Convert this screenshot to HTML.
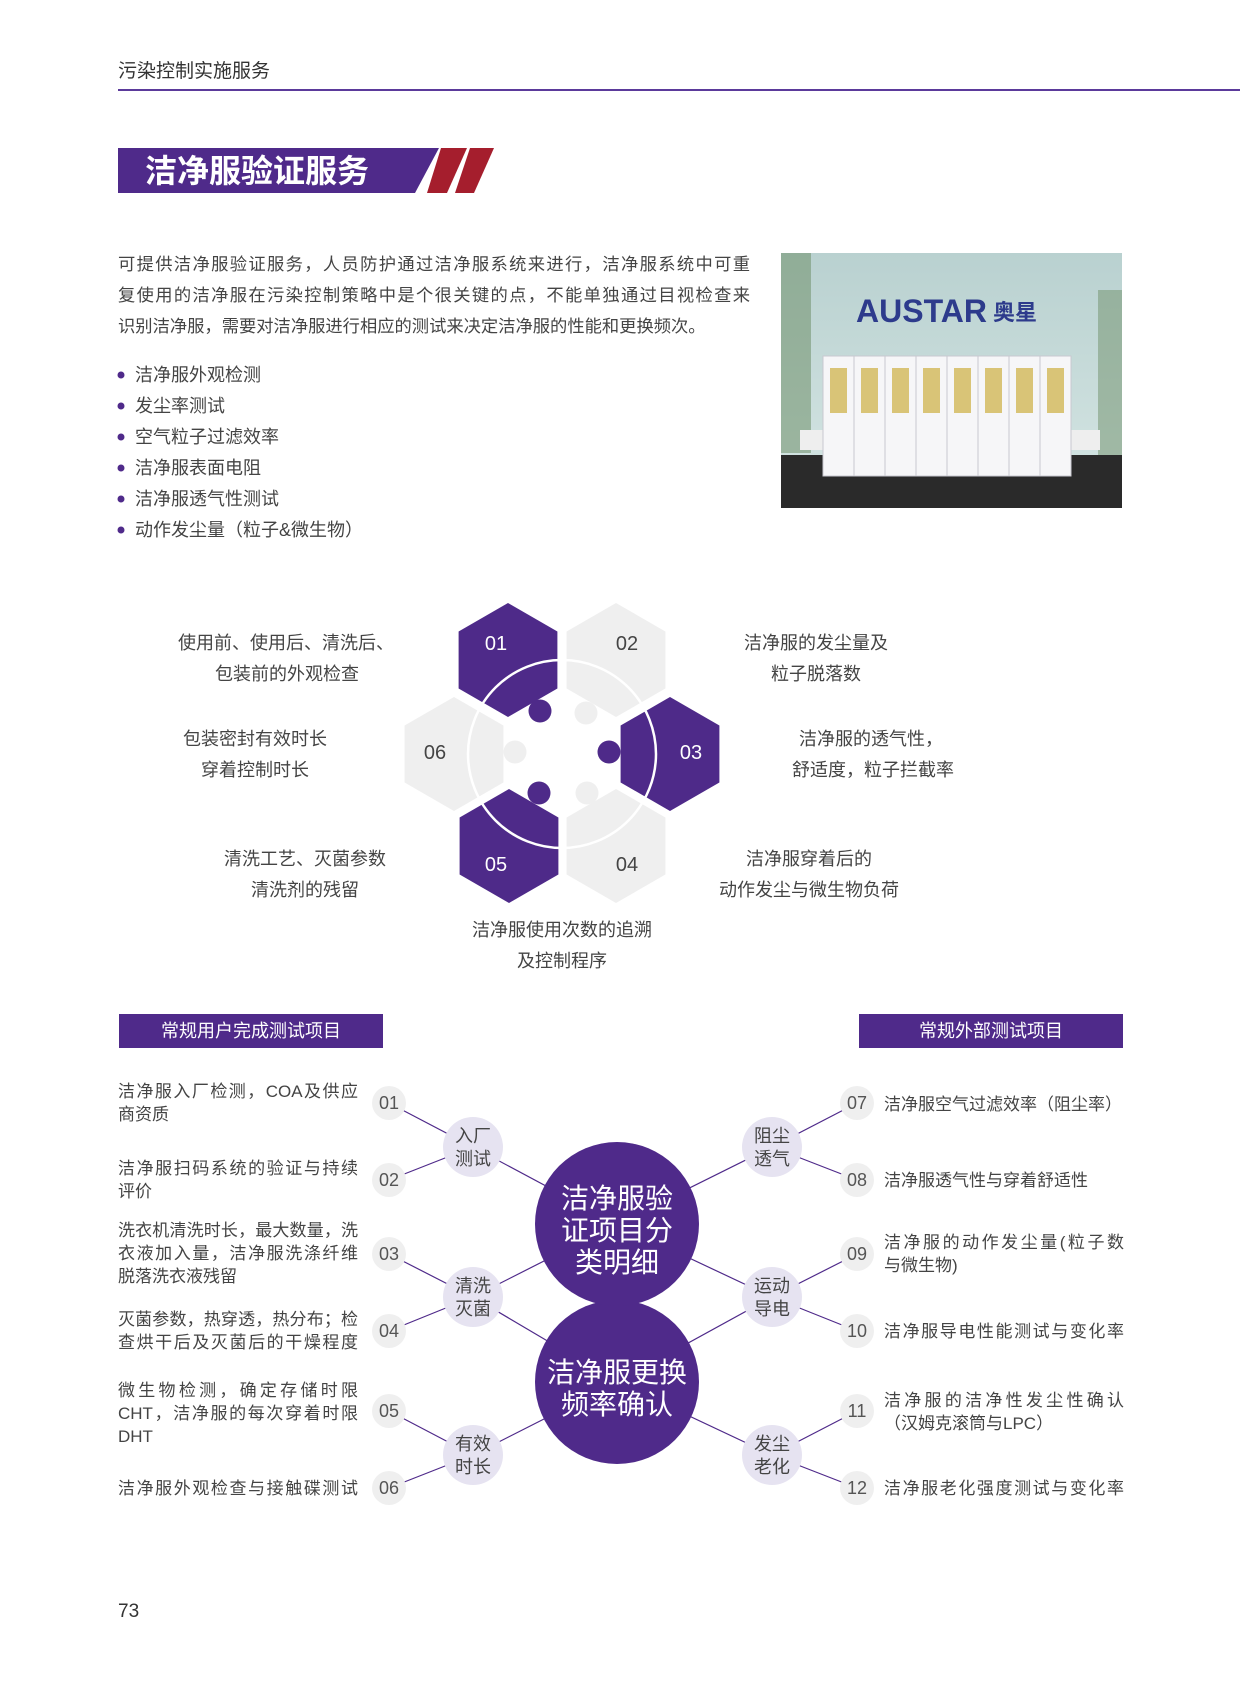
<!DOCTYPE html>
<html><head><meta charset="utf-8">
<style>
body{margin:0;background:#fff;}
#p{position:relative;width:1240px;height:1683px;overflow:hidden;font-family:"Liberation Sans","Noto Sans CJK SC",sans-serif;color:#444;}
.t{position:absolute;white-space:nowrap;font-size:18px;line-height:18px;}
.c{transform:translateX(-50%);text-align:center;}
.j{position:absolute;width:240px;font-size:17px;line-height:23px;color:#444;}
.j div{text-align:justify;text-align-last:justify;height:23px;white-space:nowrap;}
.j div.l{text-align-last:left;}
svg{position:absolute;left:0;top:0;}
</style></head><body><div id="p">
<svg width="1240" height="1683" viewBox="0 0 1240 1683">
<line x1="118" y1="90" x2="1240" y2="90" stroke="#5b3a9b" stroke-width="2"/>
<polygon points="118,148 439,148 415,193 118,193" fill="#4f2a8a"/>
<polygon points="441,148 467,148 447,193 427,193" fill="#a51e2d"/>
<polygon points="470,148 494,148 474,193 455,193" fill="#a51e2d"/>
<defs>
<linearGradient id="wall" x1="0" y1="0" x2="0" y2="1"><stop offset="0" stop-color="#b9d1d0"/><stop offset="1" stop-color="#d6e6e4"/></linearGradient>
</defs>
<rect x="781" y="253" width="341" height="255" fill="url(#wall)"/>
<rect x="781" y="253" width="30" height="200" fill="#6f8f6a" opacity="0.55"/>
<rect x="1098" y="290" width="24" height="180" fill="#6f8f6a" opacity="0.5"/>
<rect x="781" y="455" width="341" height="53" fill="#2a2a2a"/>
<rect x="800" y="430" width="300" height="20" fill="#eeeeee"/>
<text x="856" y="322" font-family="Liberation Sans,sans-serif" font-size="32" fill="#2d3b8c" font-weight="bold">AUSTAR</text>
<text x="993" y="320" font-family="Noto Sans CJK SC,sans-serif" font-size="22" fill="#2d3b8c" font-weight="bold">奥星</text>
<g fill="#f6f6f8" stroke="#c8c8d0" stroke-width="1">
<rect x="823" y="356" width="31" height="120"/><rect x="854" y="356" width="31" height="120"/><rect x="885" y="356" width="31" height="120"/><rect x="916" y="356" width="31" height="120"/><rect x="947" y="356" width="31" height="120"/><rect x="978" y="356" width="31" height="120"/><rect x="1009" y="356" width="31" height="120"/><rect x="1040" y="356" width="31" height="120"/>
</g>
<g fill="#d9c477">
<rect x="830" y="368" width="17" height="45"/><rect x="861" y="368" width="17" height="45"/><rect x="892" y="368" width="17" height="45"/><rect x="923" y="368" width="17" height="45"/><rect x="954" y="368" width="17" height="45"/><rect x="985" y="368" width="17" height="45"/><rect x="1016" y="368" width="17" height="45"/><rect x="1047" y="368" width="17" height="45"/>
</g>
<g fill="#4f2a8a"><circle cx="121" cy="375" r="3.5"/><circle cx="121" cy="406" r="3.5"/><circle cx="121" cy="437" r="3.5"/><circle cx="121" cy="468" r="3.5"/><circle cx="121" cy="499" r="3.5"/><circle cx="121" cy="530" r="3.5"/></g>
<g>
<polygon points="508,603 557.4,631.5 557.4,688.5 508,717 458.6,688.5 458.6,631.5" fill="#4e2a89"/>
<polygon points="616,603 665.4,631.5 665.4,688.5 616,717 566.6,688.5 566.6,631.5" fill="#efefef"/>
<polygon points="670,697 719.4,725.5 719.4,782.5 670,811 620.6,782.5 620.6,725.5" fill="#4e2a89"/>
<polygon points="454,697 503.4,725.5 503.4,782.5 454,811 404.6,782.5 404.6,725.5" fill="#efefef"/>
<polygon points="509,789 558.4,817.5 558.4,874.5 509,903 459.6,874.5 459.6,817.5" fill="#4e2a89"/>
<polygon points="616,789 665.4,817.5 665.4,874.5 616,903 566.6,874.5 566.6,817.5" fill="#efefef"/>
<circle cx="562" cy="754" r="94" fill="none" stroke="#fff" stroke-width="2.5"/>
<circle cx="540" cy="711" r="11.5" fill="#4e2a89"/>
<circle cx="586" cy="713" r="11.5" fill="#efefef"/>
<circle cx="609" cy="752" r="11.5" fill="#4e2a89"/>
<circle cx="515" cy="752" r="11.5" fill="#efefef"/>
<circle cx="539" cy="793" r="11.5" fill="#4e2a89"/>
<circle cx="587" cy="793" r="11.5" fill="#efefef"/>
<g font-family="Liberation Sans,sans-serif" font-size="20" text-anchor="middle">
<text x="496" y="650" fill="#fff">01</text>
<text x="627" y="650" fill="#444">02</text>
<text x="691" y="759" fill="#fff">03</text>
<text x="435" y="759" fill="#444">06</text>
<text x="496" y="871" fill="#fff">05</text>
<text x="627" y="871" fill="#444">04</text>
</g>
</g>
<rect x="119" y="1014" width="264" height="34" fill="#4f2a8a"/>
<rect x="859" y="1014" width="264" height="34" fill="#4f2a8a"/>
<g stroke="#4f2a8a" stroke-width="1.2">
<line x1="389" y1="1103" x2="473" y2="1147"/><line x1="389" y1="1180" x2="473" y2="1147"/>
<line x1="389" y1="1254" x2="473" y2="1297"/><line x1="389" y1="1331" x2="473" y2="1297"/>
<line x1="389" y1="1411" x2="473" y2="1455"/><line x1="389" y1="1488" x2="473" y2="1455"/>
<line x1="857" y1="1103" x2="772" y2="1147"/><line x1="857" y1="1180" x2="772" y2="1147"/>
<line x1="857" y1="1254" x2="772" y2="1297"/><line x1="857" y1="1331" x2="772" y2="1297"/>
<line x1="857" y1="1411" x2="772" y2="1455"/><line x1="857" y1="1488" x2="772" y2="1455"/>
<line x1="473" y1="1147" x2="617" y2="1224"/><line x1="473" y1="1297" x2="617" y2="1224"/><line x1="473" y1="1297" x2="617" y2="1382"/><line x1="473" y1="1455" x2="617" y2="1382"/>
<line x1="772" y1="1147" x2="617" y2="1224"/><line x1="772" y1="1297" x2="617" y2="1224"/><line x1="772" y1="1297" x2="617" y2="1382"/><line x1="772" y1="1455" x2="617" y2="1382"/>
</g>
<g fill="#efefef">
<circle cx="389" cy="1103" r="17"/><circle cx="389" cy="1180" r="17"/><circle cx="389" cy="1254" r="17"/><circle cx="389" cy="1331" r="17"/><circle cx="389" cy="1411" r="17"/><circle cx="389" cy="1488" r="17"/>
<circle cx="857" cy="1103" r="17"/><circle cx="857" cy="1180" r="17"/><circle cx="857" cy="1254" r="17"/><circle cx="857" cy="1331" r="17"/><circle cx="857" cy="1411" r="17"/><circle cx="857" cy="1488" r="17"/>
</g>
<g fill="#e6e3f1">
<circle cx="473" cy="1147" r="30"/><circle cx="473" cy="1297" r="30"/><circle cx="473" cy="1455" r="30"/>
<circle cx="772" cy="1147" r="30"/><circle cx="772" cy="1297" r="30"/><circle cx="772" cy="1455" r="30"/>
</g>
<circle cx="617" cy="1382" r="82" fill="#4f2a8a"/>
<circle cx="617" cy="1224" r="82" fill="#4f2a8a"/>
<g font-family="Liberation Sans,sans-serif" font-size="18" fill="#555" text-anchor="middle">
<text x="389" y="1109">01</text><text x="389" y="1186">02</text><text x="389" y="1260">03</text><text x="389" y="1337">04</text><text x="389" y="1417">05</text><text x="389" y="1494">06</text>
<text x="857" y="1109">07</text><text x="857" y="1186">08</text><text x="857" y="1260">09</text><text x="857" y="1337">10</text><text x="857" y="1417">11</text><text x="857" y="1494">12</text>
</g>
<g font-family="Liberation Sans,Noto Sans CJK SC,sans-serif" font-size="18" fill="#444" text-anchor="middle">
<text x="473" y="1142">入厂</text><text x="473" y="1165">测试</text>
<text x="473" y="1292">清洗</text><text x="473" y="1315">灭菌</text>
<text x="473" y="1450">有效</text><text x="473" y="1473">时长</text>
<text x="772" y="1142">阻尘</text><text x="772" y="1165">透气</text>
<text x="772" y="1292">运动</text><text x="772" y="1315">导电</text>
<text x="772" y="1450">发尘</text><text x="772" y="1473">老化</text>
</g>
<g font-family="Liberation Sans,Noto Sans CJK SC,sans-serif" font-size="28" fill="#fff" text-anchor="middle">
<text x="617" y="1208">洁净服验</text><text x="617" y="1240">证项目分</text><text x="617" y="1272">类明细</text>
<text x="617" y="1382">洁净服更换</text><text x="617" y="1414">频率确认</text>
</g>
</svg>

<div class="t" style="left:118px;top:62px;font-size:19px;line-height:20px;color:#333;">污染控制实施服务</div>
<div class="t" style="left:145px;top:154px;font-size:32px;line-height:34px;color:#fff;font-weight:bold;">洁净服验证服务</div>
<div style="position:absolute;left:118px;top:249px;width:632px;font-size:17.3px;line-height:31px;color:#444;">
<div style="text-align:justify;text-align-last:justify;white-space:nowrap;">可提供洁净服验证服务，人员防护通过洁净服系统来进行，洁净服系统中可重</div>
<div style="text-align:justify;text-align-last:justify;white-space:nowrap;">复使用的洁净服在污染控制策略中是个很关键的点，不能单独通过目视检查来</div>
<div style="white-space:nowrap;">识别洁净服，需要对洁净服进行相应的测试来决定洁净服的性能和更换频次。</div>
</div>
<div class="t" style="left:135px;top:366px;">洁净服外观检测</div>
<div class="t" style="left:135px;top:397px;">发尘率测试</div>
<div class="t" style="left:135px;top:428px;">空气粒子过滤效率</div>
<div class="t" style="left:135px;top:459px;">洁净服表面电阻</div>
<div class="t" style="left:135px;top:490px;">洁净服透气性测试</div>
<div class="t" style="left:135px;top:521px;">动作发尘量（粒子&amp;微生物）</div>

<div class="t c" style="left:286px;top:634px;">使用前、使用后、清洗后、</div>
<div class="t c" style="left:287px;top:665px;">包装前的外观检查</div>
<div class="t c" style="left:255px;top:730px;">包装密封有效时长</div>
<div class="t c" style="left:255px;top:761px;">穿着控制时长</div>
<div class="t c" style="left:305px;top:850px;">清洗工艺、灭菌参数</div>
<div class="t c" style="left:305px;top:881px;">清洗剂的残留</div>
<div class="t c" style="left:816px;top:634px;">洁净服的发尘量及</div>
<div class="t c" style="left:816px;top:665px;">粒子脱落数</div>
<div class="t c" style="left:871px;top:730px;">洁净服的透气性，</div>
<div class="t c" style="left:873px;top:761px;">舒适度，粒子拦截率</div>
<div class="t c" style="left:809px;top:850px;">洁净服穿着后的</div>
<div class="t c" style="left:809px;top:881px;">动作发尘与微生物负荷</div>
<div class="t c" style="left:562px;top:921px;">洁净服使用次数的追溯</div>
<div class="t c" style="left:562px;top:952px;">及控制程序</div>

<div class="t c" style="left:251px;top:1022px;color:#fff;">常规用户完成测试项目</div>
<div class="t c" style="left:991px;top:1022px;color:#fff;">常规外部测试项目</div>

<div class="j" style="left:118px;top:1080px;"><div>洁净服入厂检测，COA及供应</div><div class="l">商资质</div></div>
<div class="j" style="left:118px;top:1157px;"><div>洁净服扫码系统的验证与持续</div><div class="l">评价</div></div>
<div class="j" style="left:118px;top:1219px;"><div>洗衣机清洗时长，最大数量，洗</div><div>衣液加入量，洁净服洗涤纤维</div><div class="l">脱落洗衣液残留</div></div>
<div class="j" style="left:118px;top:1308px;"><div>灭菌参数，热穿透，热分布；检</div><div>查烘干后及灭菌后的干燥程度</div></div>
<div class="j" style="left:118px;top:1379px;"><div>微生物检测，确定存储时限</div><div>CHT，洁净服的每次穿着时限</div><div class="l">DHT</div></div>
<div class="j" style="left:118px;top:1477px;"><div>洁净服外观检查与接触碟测试</div></div>

<div class="j" style="left:884px;top:1093px;"><div class="l">洁净服空气过滤效率（阻尘率）</div></div>
<div class="j" style="left:884px;top:1169px;"><div class="l">洁净服透气性与穿着舒适性</div></div>
<div class="j" style="left:884px;top:1231px;"><div>洁净服的动作发尘量(粒子数</div><div class="l">与微生物)</div></div>
<div class="j" style="left:884px;top:1320px;"><div>洁净服导电性能测试与变化率</div></div>
<div class="j" style="left:884px;top:1389px;"><div>洁净服的洁净性发尘性确认</div><div class="l">（汉姆克滚筒与LPC）</div></div>
<div class="j" style="left:884px;top:1477px;"><div>洁净服老化强度测试与变化率</div></div>

<div class="t" style="left:118px;top:1603px;font-size:19px;color:#333;">73</div>
</div></body></html>
